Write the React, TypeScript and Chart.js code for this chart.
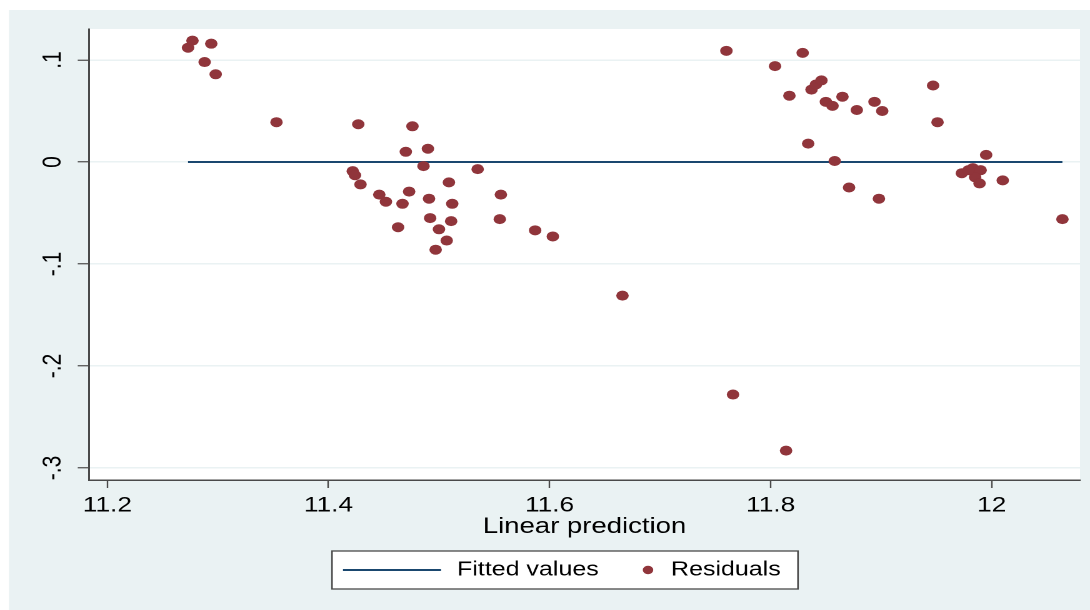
import React, { useEffect, useRef } from 'react';
import { Chart, registerables } from 'chart.js';

Chart.register(...registerables);

// ---- data ----
const residualX = [
  11.273, 11.277, 11.294, 11.288, 11.298, 11.353, 11.427, 11.476, 11.470, 11.490,
  11.486, 11.535, 11.422, 11.424, 11.429, 11.509, 11.446, 11.452, 11.473, 11.467,
  11.491, 11.512, 11.556, 11.492, 11.511, 11.555, 11.463, 11.500, 11.507, 11.497,
  11.587, 11.603, 11.666, 11.760, 11.766, 11.814, 11.829, 11.804, 11.817, 11.837,
  11.841, 11.846, 11.850, 11.856, 11.865, 11.878, 11.894, 11.901, 11.947, 11.951,
  11.834, 11.858, 11.871, 11.898, 11.995, 11.973, 11.983, 11.990, 11.985, 11.989,
  12.010, 12.064, 11.979,
];
const residualY = [
  0.112, 0.119, 0.116, 0.098, 0.086, 0.039, 0.037, 0.035, 0.010, 0.013,
  -0.004, -0.007, -0.009, -0.013, -0.022, -0.020, -0.032, -0.039, -0.029, -0.041,
  -0.036, -0.041, -0.032, -0.055, -0.058, -0.056, -0.064, -0.066, -0.077, -0.086,
  -0.067, -0.073, -0.131, 0.109, -0.228, -0.283, 0.107, 0.094, 0.065, 0.071,
  0.076, 0.080, 0.059, 0.055, 0.064, 0.051, 0.059, 0.050, 0.075, 0.039,
  0.018, 0.001, -0.025, -0.036, 0.007, -0.011, -0.006, -0.008, -0.015, -0.021,
  -0.018, -0.056, -0.008,
];
const fittedX = [11.273, 12.064];
const fittedY = [0, 0];
const xTicks = [11.2, 11.4, 11.6, 11.8, 12];
const yTicks = [0.1, 0, -0.1, -0.2, -0.3];
const seriesLabels = ['Fitted values', 'Residuals'];
const xTitle = 'Linear prediction';

// ---- styling ----
const SX = 1.25; // horizontal stretch of the reference picture
const W = 1090 / SX;
const H = 610;
const FAMILY = "'Liberation Sans', Arial, sans-serif";
const BG = '#eaf2f3';
const NAVY = '#1a476f';
const MAROON = '#90353b';
const AXIS = '#4a4a4a';

const fmtX = (v: number) => String(Math.round(v * 10) / 10);
const fmtY = (v: number) => {
  const r = Math.round(v * 10) / 10;
  if (r === 0) return '0';
  return (r < 0 ? '-' : '') + String(Math.abs(r)).replace(/^0/, '');
};

const bgPlugin = {
  id: 'stataBg',
  beforeDraw(chart: any) {
    const { ctx, chartArea } = chart;
    ctx.save();
    ctx.fillStyle = '#ffffff';
    ctx.fillRect(0, 0, W, H);
    ctx.fillStyle = BG;
    ctx.fillRect(9 / SX, 10, W - 9 / SX, H - 10);
    ctx.fillStyle = '#ffffff';
    ctx.fillRect(chartArea.left, chartArea.top, chartArea.right - chartArea.left, chartArea.bottom - chartArea.top);
    ctx.restore();
  },
};

const legendPlugin = {
  id: 'stataLegend',
  afterDraw(chart: any) {
    const { ctx } = chart;
    const ds = chart.data.datasets;
    const x0 = 332 / SX, x1 = 798 / SX, y0 = 551, y1 = 589;
    const cy = (y0 + y1) / 2;
    ctx.save();
    ctx.fillStyle = '#ffffff';
    ctx.fillRect(x0, y0, x1 - x0, y1 - y0);
    ctx.strokeStyle = AXIS;
    ctx.lineWidth = 1.3;
    ctx.strokeRect(x0, y0, x1 - x0, y1 - y0);
    // line sample
    ctx.strokeStyle = ds[0].borderColor;
    ctx.lineWidth = 2;
    ctx.beginPath();
    ctx.moveTo(343 / SX, cy);
    ctx.lineTo(441 / SX, cy);
    ctx.stroke();
    ctx.font = `20px ${FAMILY}`;
    ctx.fillStyle = '#000';
    ctx.textBaseline = 'middle';
    ctx.textAlign = 'left';
    ctx.fillText(ds[0].label, 457 / SX, cy);
    // dot sample
    ctx.fillStyle = ds[1].backgroundColor;
    ctx.beginPath();
    ctx.arc(648 / SX, cy, 4.2, 0, Math.PI * 2);
    ctx.fill();
    ctx.fillStyle = '#000';
    ctx.fillText(ds[1].label, 671 / SX, cy);
    ctx.restore();
  },
};

export default function App() {
  const ref = useRef<HTMLCanvasElement | null>(null);

  useEffect(() => {
    if (!ref.current) return;
    const chart = new Chart(ref.current, {
      type: 'scatter',
      data: {
        datasets: [
          {
            type: 'line',
            label: seriesLabels[0],
            data: fittedX.map((x, i) => ({ x, y: fittedY[i] })),
            borderColor: NAVY,
            backgroundColor: NAVY,
            borderWidth: 2,
            pointRadius: 0,
            fill: false,
            order: 2,
          } as any,
          {
            type: 'scatter',
            label: seriesLabels[1],
            data: residualX.map((x, i) => ({ x, y: residualY[i] })),
            backgroundColor: MAROON,
            borderColor: MAROON,
            borderWidth: 0,
            pointRadius: 5,
            order: 1,
          },
        ],
      },
      options: {
        responsive: false,
        animation: false,
        devicePixelRatio: 2,
        layout: { padding: { left: 0, right: W - 1080 / SX, top: 29, bottom: 0 } },
        plugins: { legend: { display: false }, tooltip: { enabled: false } },
        scales: {
          x: {
            type: 'linear',
            position: 'bottom',
            min: 11.1834,
            max: 12.0799,
            afterBuildTicks: (s: any) => {
              s.ticks = xTicks.map((v) => ({ value: v }));
            },
            afterFit: (s: any) => {
              s.height = 130;
            },
            ticks: {
              font: { family: FAMILY, size: 21 },
              color: '#000',
              padding: 5,
              minRotation: 0,
              maxRotation: 0,
              callback: (v: any) => fmtX(Number(v)),
            },
            grid: {
              drawOnChartArea: false,
              drawTicks: true,
              tickLength: 8,
              tickColor: AXIS,
              tickWidth: 1.2,
            },
            border: { display: true, color: AXIS, width: 1.5 },
            title: {
              display: true,
              text: xTitle,
              color: '#000',
              font: { family: FAMILY, size: 22 },
              padding: { top: 0, bottom: 70 },
            },
          },
          y: {
            type: 'linear',
            min: -0.3118,
            max: 0.1304,
            afterBuildTicks: (s: any) => {
              s.ticks = yTicks.map((v) => ({ value: v }));
            },
            afterFit: (s: any) => {
              s.width = 89 / SX;
            },
            ticks: {
              font: { family: FAMILY, size: 21 },
              color: '#000',
              padding: 7,
              minRotation: 90,
              maxRotation: 90,
              crossAlign: 'center',
              callback: (v: any) => fmtY(Number(v)),
            },
            grid: {
              color: BG,
              lineWidth: 1.5,
              drawTicks: true,
              tickLength: 9,
              tickColor: AXIS,
              tickWidth: 1.2,
            },
            border: { display: true, color: AXIS, width: 1.5 },
          },
        },
      },
      plugins: [bgPlugin, legendPlugin],
    });
    return () => chart.destroy();
  }, []);

  return (
    <div
      style={{
        position: 'fixed',
        left: 0,
        top: 0,
        width: W,
        height: H,
        transform: `scaleX(${SX})`,
        transformOrigin: '0 0',
      }}
    >
      <canvas ref={ref} width={W} height={H} style={{ display: 'block' }} />
    </div>
  );
}
